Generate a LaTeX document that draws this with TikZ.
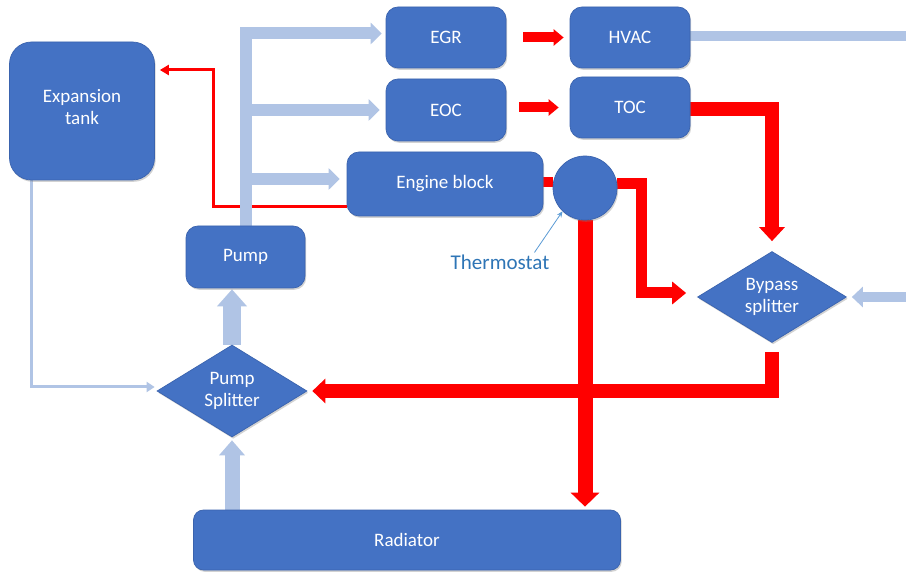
\documentclass[tikz,border=0pt]{standalone}
\usepackage{fontspec}
\setmainfont{Carlito}
\usetikzlibrary{arrows.meta,shapes.geometric,calc,shadows}
\definecolor{boxblue}{HTML}{4472C4}
\definecolor{boxedge}{HTML}{3A63AE}
\definecolor{lblue}{HTML}{B0C4E5}
\definecolor{tlblue}{HTML}{2E75B6}
\definecolor{arrblue}{HTML}{5B9BD5}
\definecolor{hred}{HTML}{FF0000}
\pgfdeclarelayer{bg}
\pgfsetlayers{bg,main}
\begin{document}
\begin{tikzpicture}[x=1pt,y=-1pt,
  box/.style={draw=boxedge, line width=0.7pt, fill=boxblue, text=white, rounded corners=12pt,
    align=center, inner sep=0pt, font=\fontsize{19}{22}\selectfont,
    drop shadow={shadow xshift=1.2pt, shadow yshift=-1.8pt, opacity=0.35}},
  splitbox/.style={box, shape=diamond, rounded corners=0pt, aspect=1.63},
  blueflow/.style={draw=lblue, line width=12pt, -{Triangle[width=21pt,length=11pt]}},
  blueline/.style={draw=lblue, line width=10pt},
  bluethin/.style={draw=lblue, line width=3pt, -{Triangle[width=10pt,length=8pt]}},
  redflow/.style={draw=hred, line width=14pt, -{Triangle[width=25pt,length=14pt]}},
  redshort/.style={draw=hred, line width=10pt, -{Triangle[width=16pt,length=10pt]}},
  redthin/.style={draw=hred, line width=3pt, -{Triangle[width=10pt,length=9pt]}},
  redline/.style={draw=hred, line width=10pt}
]
\useasboundingbox (0,0) rectangle (906,572);

% nodes
\node[box, minimum width=145pt, minimum height=138pt, rounded corners=22pt] (tank) at (82,111) {Expansion\\tank\\[-14pt]};
\node[box, minimum width=119pt, minimum height=62pt] (pump) at (245.5,257) {Pump};
\node[box, minimum width=120pt, minimum height=61pt] (egr) at (446,37.5) {EGR};
\node[box, minimum width=120pt, minimum height=62pt] (eoc) at (446,110) {EOC};
\node[box, minimum width=120pt, minimum height=61pt] (hvac) at (630,37.5) {HVAC};
\node[box, minimum width=120pt, minimum height=61pt] (toc) at (630,107.5) {TOC};
\node[box, minimum width=196pt, minimum height=64pt] (eng) at (445,184) {Engine block};
\node[box, shape=circle, minimum size=64pt] (therm) at (585,188) {};
\node[splitbox, minimum width=149pt, minimum height=91pt] (bsplit) at (772,297) {Bypass\\splitter};
\node[splitbox, minimum width=150pt, minimum height=92pt] (psplit) at (232,391) {Pump\\Splitter};
\node[box, minimum width=427pt, minimum height=60pt, rounded corners=10pt] (rad) at (407,540) {Radiator};
\node[text=tlblue, font=\fontsize{21}{24}\selectfont, inner sep=0pt] (thlabel) at (500,262) {Thermostat};

\coordinate (k1) at (213,70);
\coordinate (hvout) at (906,36);
\coordinate (bpin) at (906,297);
\coordinate (egrin) at ([yshift=4pt]egr.west);
\coordinate (engin) at ([yshift=5pt]eng.west);
\coordinate (psin) at ([yshift=4pt]psplit.west);
\coordinate (tankout) at ([xshift=-51pt]tank.south);

\begin{pgfonlayer}{bg}
\fill[white] (0,0) rectangle (906,572);
% red thin return to expansion tank
\draw[redthin, shorten >=5pt] ([yshift=-23pt]eng.west) -| (k1) -- (tank.east |- k1);
% blue supply lines from pump
\draw[blueflow, shorten >=4pt] (pump.north) |- (egrin);
\draw[blueflow, shorten >=6pt] (pump.north |- eoc.west) -- (eoc.west);
\draw[blueflow, shorten >=7pt] (pump.north |- engin) -- (engin);
% expansion tank to pump splitter
\draw[bluethin, shorten >=2pt] (tankout) |- (psin);
% pump splitter to pump
\draw[draw=lblue, line width=18pt, -{Triangle[width=29pt,length=17pt]}, shorten >=1pt] (psplit.north) -- (psplit.north |- pump.south);
% radiator to pump splitter
\draw[draw=lblue, line width=15pt, -{Triangle[width=25pt,length=15pt]}, shorten >=3pt] (rad.north -| psplit.south) -- (psplit.south);
% HVAC out
\draw[blueline] ([yshift=1.5pt]hvac.east) -- (hvout);
% into bypass splitter
\draw[draw=lblue, line width=10pt, -{Triangle[width=20pt,length=11pt]}, shorten >=5pt] (bpin) -- (bsplit.east);
% red short arrows
\draw[redshort, shorten <=17pt, shorten >=6pt] (egr.east) -- (hvac.west);
\draw[redshort, shorten <=13pt, shorten >=11pt] (eoc.east |- toc.west) -- (toc.west);
% TOC to bypass splitter
\draw[redflow, shorten >=10pt] ([yshift=-2pt]toc.east) -| (bsplit.north);
% engine block to thermostat
\draw[redline] ([yshift=1.5pt]eng.east) -- ([yshift=1.5pt]eng.east -| therm.west);
% thermostat to bypass splitter
\draw[draw=hred, line width=11pt, -{Triangle[width=22pt,length=14pt]}, shorten >=11pt] ([yshift=4pt]therm.east) -- ++(24,0) |- ([yshift=4pt]bsplit.west);
% bypass splitter to pump splitter
\draw[redflow, line width=14pt, -{Triangle[width=24pt,length=13pt]}, shorten >=5pt] ([yshift=-9pt]bsplit.south) |- (psplit.east);
% thermostat to radiator
\draw[draw=hred, line width=15pt, -{Triangle[width=28pt,length=14pt]}, shorten >=3pt] (therm.south) -- (therm.south |- rad.north);
\end{pgfonlayer}

% thermostat label pointer
\draw[arrblue, line width=0.8pt, -{Stealth[length=6pt,width=5pt]}] ([xshift=-15pt,yshift=2pt]thlabel.north east) -- (therm.226);
\end{tikzpicture}
\end{document}
